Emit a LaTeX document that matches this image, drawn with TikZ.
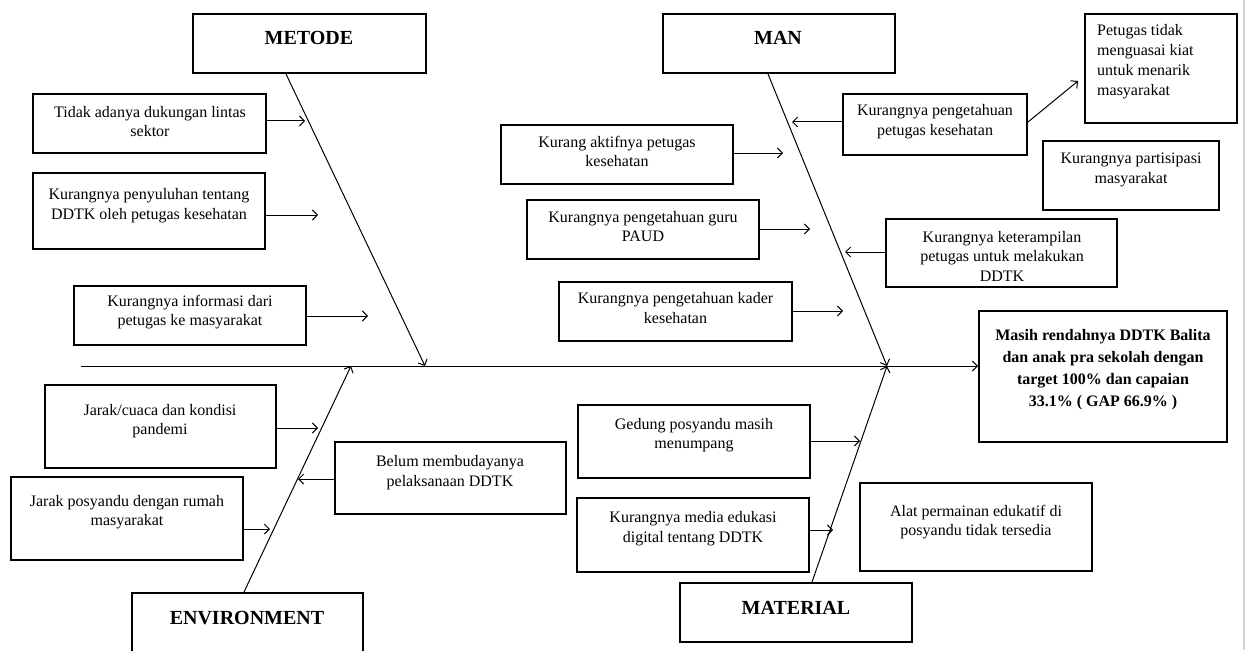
\documentclass[tikz,border=0pt]{standalone}
\usepackage{fontspec}
\setmainfont{Liberation Serif}
\usetikzlibrary{arrows.meta}
\newcommand\mybox[5]{\node[box, minimum width={(#4)-(#2)}, minimum height={(#5)-(#3)}] (#1) at ({((#2)+(#4))/2},{((#3)+(#5))/2}) {};}
\begin{document}
\begin{tikzpicture}[x=1pt,y=-1pt,
  box/.style={draw, line width=2pt, inner sep=0pt},
  txt/.style={font=\fontsize{16}{19.5}\selectfont, align=center, inner sep=0pt},
  hdr/.style={font=\fontsize{20}{24}\selectfont\bfseries, inner sep=0pt},
  res/.style={font=\fontsize{16}{22}\selectfont\bfseries, align=center, inner sep=0pt},
  bone/.style={line width=1pt, -{Straight Barb[length=5pt,width=10pt]}},
]
\useasboundingbox (0,0) rectangle (1249,650);
\clip (0,0) rectangle (1249,650);
\fill[white] (0,0) rectangle (1249,650);
\draw[gray!35, line width=2pt] (1244,0) -- (1244,650);

% headers
\mybox{metode}{193}{14}{426}{73}
\node[hdr] (metodet) at (309,38) {METODE};
\mybox{man}{663}{14}{895}{73}
\node[hdr] (mant) at (778,38) {MAN};
\mybox{env}{132}{593}{363}{665}
\node[hdr] (envt) at (247,618) {ENVIRONMENT};
\mybox{mat}{680}{583}{912}{642}
\node[hdr] (matt) at (796,608) {MATERIAL};

% result
\mybox{res}{979}{311}{1227}{442}
\node[res] (rest) at (1103,370) {Masih rendahnya DDTK Balita\\dan anak pra sekolah dengan\\target 100\% dan capaian\\33.1\% ( GAP 66.9\% )};

% METODE causes
\mybox{b1}{33}{94}{266}{153}
\node[txt] (b1t) at (150,121.5) {Tidak adanya dukungan lintas\\sektor};
\mybox{b2}{33}{173}{265}{249}
\node[txt] (b2t) at (149,205.5) {Kurangnya penyuluhan tentang\\DDTK oleh petugas kesehatan};
\mybox{b3}{74}{286}{306}{345}
\node[txt] (b3t) at (190,312) {Kurangnya informasi dari\\petugas ke masyarakat};

% ENVIRONMENT causes
\mybox{e1}{45}{385}{276}{468}
\node[txt] (e1t) at (160,421) {Jarak/cuaca dan kondisi\\pandemi};
\mybox{e2}{11}{477}{243}{560}
\node[txt] (e2t) at (127,512) {Jarak posyandu dengan rumah\\masyarakat};
\mybox{e3}{335}{442}{566}{514}
\node[txt] (e3t) at (450,472.5) {Belum membudayanya\\pelaksanaan DDTK};

% MAN causes
\mybox{m1}{501}{125}{733}{184}
\node[txt] (m1t) at (617,151.5) {Kurang aktifnya petugas\\kesehatan};
\mybox{m2}{527}{200}{759}{259}
\node[txt] (m2t) at (643,226.5) {Kurangnya pengetahuan guru\\PAUD};
\mybox{m3}{559}{282}{792}{341}
\node[txt] (m3t) at (675.5,308) {Kurangnya pengetahuan kader\\kesehatan};
\mybox{m4}{843}{94}{1027}{155}
\node[txt] (m4t) at (935,121.5) {Kurangnya pengetahuan\\petugas kesehatan};
\mybox{m5}{1085}{14}{1237}{123}
\node[txt, align=left, anchor=west, font=\fontsize{16}{20}\selectfont] (m5t) at (1097,62) {Petugas tidak\\menguasai kiat\\untuk menarik\\masyarakat};
\mybox{m6}{1043}{141}{1219}{210}
\node[txt] (m6t) at (1131,170) {Kurangnya partisipasi\\masyarakat};
\mybox{m7}{886}{219}{1117}{287}
\node[txt] (m7t) at (1002,256) {Kurangnya keterampilan\\petugas untuk melakukan\\DDTK};

% MATERIAL causes
\mybox{t1}{578}{405}{810}{478}
\node[txt] (t1t) at (694,435) {Gedung posyandu masih\\menumpang};
\mybox{t2}{577}{498}{809}{572}
\node[txt] (t2t) at (693,528.5) {Kurangnya media edukasi\\digital tentang DDTK};
\mybox{t3}{860}{483}{1092}{571}
\node[txt] (t3t) at (976,522) {Alat permainan edukatif di\\posyandu tidak tersedia};

% spine and bones
\coordinate (sp0) at (81,366);
\coordinate (mE) at (425,366);
\coordinate (manE) at (887,366);
\coordinate (envE) at (351,366);
\draw[bone] (sp0) -- (sp0 -| res.west);
\draw[bone] ([xshift=-23.5pt]metode.south) -- (mE);
\draw[bone] ([xshift=-11pt]man.south) -- (manE);
\draw[bone] ([xshift=-3.5pt]env.north) -- (envE);
\draw[bone] ([xshift=16pt]mat.north) -- (manE);

% cause arrows
\coordinate (a1) at (305,121);
\coordinate (a2) at (318,215);
\coordinate (a3) at (368,316);
\coordinate (a4) at (318,428);
\coordinate (a5) at (270,529);
\coordinate (a6) at (298,479);
\coordinate (a7) at (783,153);
\coordinate (a8) at (810,229);
\coordinate (a9) at (843,311);
\coordinate (a10) at (792,122);
\coordinate (a11) at (845,252);
\coordinate (a12) at (860,441);
\coordinate (a13) at (833,530);
\coordinate (a14) at (1078,81);
\draw[bone] (b1.east |- a1) -- (a1);
\draw[bone] (b2.east |- a2) -- (a2);
\draw[bone] (b3.east |- a3) -- (a3);
\draw[bone] (e1.east |- a4) -- (a4);
\draw[bone] (e2.east |- a5) -- (a5);
\draw[bone] (e3.west |- a6) -- (a6);
\draw[bone] (m1.east |- a7) -- (a7);
\draw[bone] (m2.east |- a8) -- (a8);
\draw[bone] (m3.east |- a9) -- (a9);
\draw[bone] (m4.west |- a10) -- (a10);
\draw[bone] (m7.west |- a11) -- (a11);
\draw[bone] (t1.east |- a12) -- (a12);
\draw[bone] (t2.east |- a13) -- (a13);
\draw[bone] (m4.east |- a10) -- (a14);
\end{tikzpicture}
\end{document}
